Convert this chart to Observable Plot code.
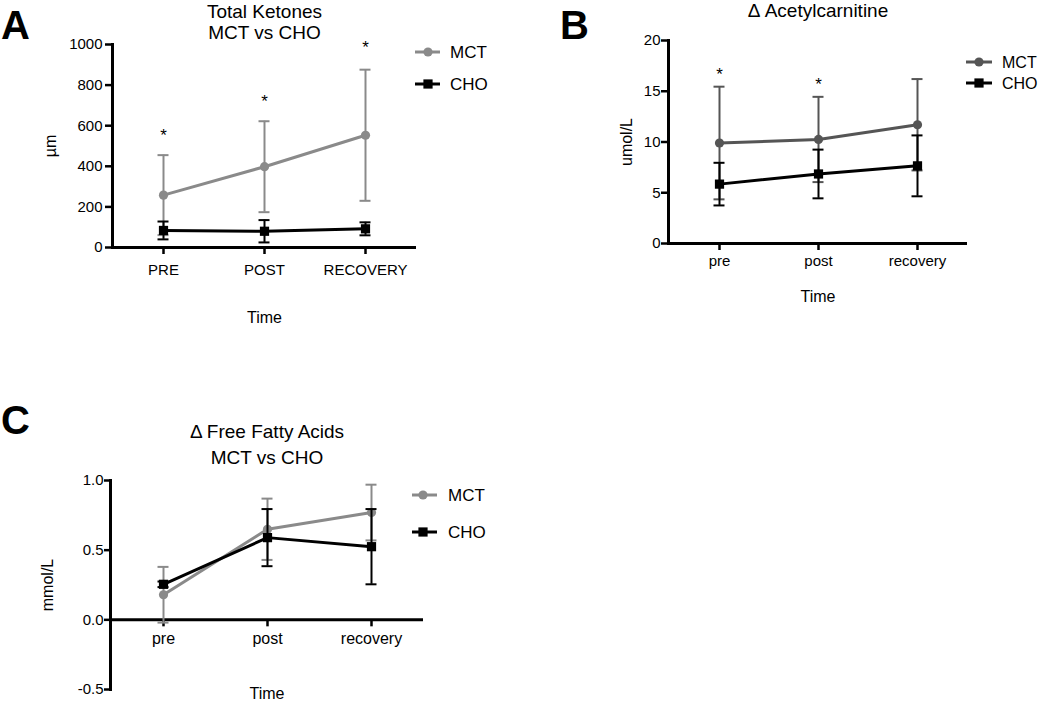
<!DOCTYPE html>
<html><head><meta charset="utf-8">
<script src="https://cdn.jsdelivr.net/npm/d3@7"></script>
<script src="https://cdn.jsdelivr.net/npm/@observablehq/plot@0.6"></script>
<style>
body{margin:0;background:#fff;font-family:"Liberation Sans",Arial,Helvetica,sans-serif;}
#root{position:relative;width:1050px;height:703px;overflow:hidden;background:#fff;}
.panel{position:absolute;}
.letter{position:absolute;font-weight:bold;font-size:40px;line-height:1;color:#000;}
</style></head><body><div id="root"></div>
<script>
// ---------- data ----------
const times = ["pre", "post", "recovery"];
const timeLabelsA = ["PRE", "POST", "RECOVERY"];
const seriesNames = ["MCT", "CHO"];

// A: Total ketones (µm), mean and SD
const ketMCT = [258, 398, 553];
const ketMCTsd = [197, 224, 323];
const ketCHO = [84, 80, 92];
const ketCHOsd = [44, 55, 32];
const ketStarTimes = ["pre", "post", "recovery"];
const ketStarY = [550, 720, 987];
const ketTicks = [0, 200, 400, 600, 800, 1000];

// B: Δ Acetylcarnitine (umol/L)
const acMCT = [9.9, 10.25, 11.7];
const acMCTsd = [5.55, 4.2, 4.5];
const acCHO = [5.85, 6.85, 7.65];
const acCHOsd = [2.1, 2.4, 3.0];
const acStarTimes = ["pre", "post"];
const acStarY = [16.65, 15.7];
const acTicks = [0, 5, 10, 15, 20];

// C: Δ Free fatty acids (mmol/L)
const ffaMCT = [0.18, 0.65, 0.77];
const ffaMCTsd = [0.2, 0.22, 0.2];
const ffaCHO = [0.255, 0.59, 0.525];
const ffaCHOsd = [0.02, 0.205, 0.27];
const ffaTicks = [-0.5, 0, 0.5, 1.0];

const FONT = '"Liberation Sans", Arial, Helvetica, sans-serif';
const GRAY = "#8a8a8a", DARK = "#555555", BLACK = "#000000";

function mkRows(means, sds) {
  return times.map((t, i) => ({t, m: means[i], lo: means[i] - sds[i], hi: means[i] + sds[i]}));
}
function seriesMarks(rows, color, symbol, r) {
  return [
    Plot.ruleX(rows, {x: "t", y1: "lo", y2: "hi", stroke: color, strokeWidth: 2}),
    Plot.ruleY(rows, {y: "lo", x1: "t", x2: "t", stroke: color, strokeWidth: 2, insetLeft: -5.5, insetRight: -5.5}),
    Plot.ruleY(rows, {y: "hi", x1: "t", x2: "t", stroke: color, strokeWidth: 2, insetLeft: -5.5, insetRight: -5.5}),
    Plot.line(rows, {x: "t", y: "m", stroke: color, strokeWidth: 3}),
    Plot.dot(rows, {x: "t", y: "m", fill: color, stroke: "none", symbol, r})
  ];
}
function textLabel(str, opts) {
  return Plot.text([str], {text: d => d, textAnchor: "middle", lineAnchor: "middle", fill: "#000", ...opts});
}
function place(node, left, top) {
  node.classList.add("panel");
  node.style.left = left + "px";
  node.style.top = top + "px";
  document.getElementById("root").appendChild(node);
}
function legend(items, fontSize, lineX1, lineX2, markX, textX) {
  const svg = d3.create("svg").attr("width", 110).attr("height", 80)
    .style("position", "absolute").style("left", "0px").style("top", "0px").style("overflow", "visible");
  items.forEach(it => {
    svg.append("line").attr("x1", lineX1).attr("x2", lineX2).attr("y1", it.y).attr("y2", it.y)
      .attr("stroke", it.color).attr("stroke-width", 3);
    svg.append("path").attr("transform", `translate(${markX},${it.y})`)
      .attr("d", d3.symbol(it.symbol === "square" ? d3.symbolSquare : d3.symbolCircle, Math.PI * it.r * it.r)())
      .attr("fill", it.color);
    svg.append("text").attr("x", textX).attr("y", it.y).attr("dy", "0.35em")
      .attr("font-family", FONT).attr("font-size", fontSize).attr("fill", "#000").text(it.name);
  });
  document.getElementById("root").appendChild(svg.node());
}
function letter(ch, left, top) {
  const d = document.createElement("div");
  d.className = "letter"; d.textContent = ch;
  d.style.left = left + "px"; d.style.top = top + "px";
  document.getElementById("root").appendChild(d);
}

// ---------- Panel A ----------
const aLabel = Object.fromEntries(times.map((t, i) => [t, timeLabelsA[i]]));
const plotA = Plot.plot({
  width: 520, height: 340,
  marginLeft: 112, marginRight: 104, marginTop: 44, marginBottom: 93,
  style: {fontFamily: FONT, fontSize: "15px", background: "transparent", overflow: "visible"},
  x: {type: "point", domain: times, padding: 0.5},
  y: {domain: [0, 1000]},
  marks: [
    Plot.axisY({ticks: ketTicks, tickSize: 7, tickPadding: 3, fontSize: 15, strokeWidth: 2.5, tickFormat: d => String(d), label: null}),
    Plot.axisX({tickSize: 7, tickPadding: 10, fontSize: 15, strokeWidth: 2.5, tickFormat: d => aLabel[d], label: null}),
    Plot.frame({anchor: "left", strokeWidth: 3}),
    Plot.ruleY([0], {strokeWidth: 3}),
    ...seriesMarks(mkRows(ketMCT, ketMCTsd), GRAY, "circle", 4.6),
    ...seriesMarks(mkRows(ketCHO, ketCHOsd), BLACK, "square", 5.2),
    Plot.text(ketStarTimes.map((t, i) => ({t, y: ketStarY[i]})), {x: "t", y: "y", text: () => "*", fontSize: 17, fill: "#000"}),
    textLabel("Total Ketones\nMCT vs CHO", {frameAnchor: "top", dy: -23, fontSize: 19, lineHeight: 1.13}),
    textLabel("µm", {frameAnchor: "left", dx: -62, rotate: -90, fontSize: 16}),
    textLabel("Time", {frameAnchor: "bottom", dy: 70, fontSize: 16})
  ]
});
place(plotA, 0, 0);

// ---------- Panel B ----------
const plotB = Plot.plot({
  width: 530, height: 320,
  marginLeft: 148, marginRight: 83, marginTop: 40, marginBottom: 77,
  style: {fontFamily: FONT, fontSize: "15px", background: "transparent", overflow: "visible"},
  x: {type: "point", domain: times, padding: 0.5},
  y: {domain: [0, 20]},
  marks: [
    Plot.axisY({ticks: acTicks, tickSize: 7, tickPadding: 1, fontSize: 15, strokeWidth: 2.5, label: null}),
    Plot.axisX({tickSize: 7, tickPadding: 5, fontSize: 15, strokeWidth: 2.5, label: null}),
    Plot.frame({anchor: "left", strokeWidth: 3}),
    Plot.ruleY([0], {strokeWidth: 3}),
    ...seriesMarks(mkRows(acMCT, acMCTsd), DARK, "circle", 4.6),
    ...seriesMarks(mkRows(acCHO, acCHOsd), BLACK, "square", 5.2),
    Plot.text(acStarTimes.map((t, i) => ({t, y: acStarY[i]})), {x: "t", y: "y", text: () => "*", fontSize: 17, fill: "#000"}),
    textLabel("Δ Acetylcarnitine", {frameAnchor: "top", dy: -29.5, fontSize: 19}),
    textLabel("umol/L", {frameAnchor: "left", dx: -42, rotate: -90, fontSize: 16}),
    textLabel("Time", {frameAnchor: "bottom", dy: 53, fontSize: 16})
  ]
});
place(plotB, 520, 0);

// ---------- Panel C ----------
const fmt1 = d => d.toFixed(1);
const plotC = Plot.plot({
  width: 520, height: 323,
  marginLeft: 110, marginRight: 97, marginTop: 100, marginBottom: 14,
  style: {fontFamily: FONT, fontSize: "15px", background: "transparent", overflow: "visible"},
  x: {type: "point", domain: times, padding: 0.5, axis: null},
  y: {domain: [-0.5, 1.0]},
  marks: [
    Plot.axisY({ticks: ffaTicks, tickSize: 6, tickPadding: 1, fontSize: 15, strokeWidth: 2.5, tickFormat: fmt1, label: null}),
    Plot.frame({anchor: "left", strokeWidth: 3}),
    Plot.ruleY([0], {strokeWidth: 3}),
    Plot.ruleX(times, {x: d => d, y1: 0, y2: 0, insetBottom: -7, strokeWidth: 2.5}),
    Plot.text(times, {x: d => d, y: 0, text: d => d, dy: 13, lineAnchor: "top", fontSize: 16, fill: "#000"}),
    ...seriesMarks(mkRows(ffaMCT, ffaMCTsd), GRAY, "circle", 4.6),
    ...seriesMarks(mkRows(ffaCHO, ffaCHOsd), BLACK, "square", 5.2),
    textLabel("Δ Free Fatty Acids\nMCT vs CHO", {frameAnchor: "top", dy: -38, fontSize: 19, lineHeight: 1.37}),
    textLabel("mmol/L", {frameAnchor: "left", dx: -63, rotate: -90, fontSize: 16}),
    textLabel("Time", {frameAnchor: "bottom", dy: 4, fontSize: 16})
  ]
});
place(plotC, 0, 380);

// ---------- legends ----------
legend([
  {name: seriesNames[0], color: GRAY, symbol: "circle", r: 4.6, y: 52},
  {name: seriesNames[1], color: BLACK, symbol: "square", r: 5.2, y: 84}
], 17, 415, 440, 428, 450);
legend([
  {name: seriesNames[0], color: DARK, symbol: "circle", r: 4.6, y: 62},
  {name: seriesNames[1], color: BLACK, symbol: "square", r: 5.2, y: 83}
], 16, 966, 992, 979, 1002);
legend([
  {name: seriesNames[0], color: GRAY, symbol: "circle", r: 4.6, y: 495},
  {name: seriesNames[1], color: BLACK, symbol: "square", r: 5.2, y: 532}
], 17, 412, 437, 423, 448);

letter("A", 1, 5);
letter("B", 560, 5);
letter("C", 1, 400);
</script></body></html>
